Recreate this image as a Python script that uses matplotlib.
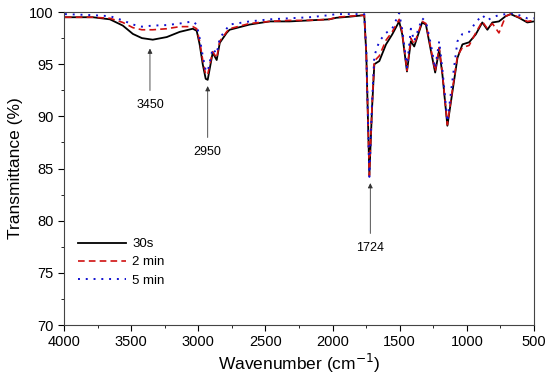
import matplotlib.pyplot as plt

plt.rcParams['font.family'] = ['Liberation Sans', 'DejaVu Sans']

# wavenumbers (cm-1)
wn = [3993, 3785, 3658, 3562, 3487, 3420, 3339, 3235, 3138, 3041, 3012, 2990,
      2967, 2945, 2930, 2893, 2863, 2840, 2789, 2767, 2618, 2469, 2321, 2172,
      2024, 1972, 1875, 1764, 1749, 1726, 1706, 1689, 1652, 1602, 1556, 1504,
      1481, 1446, 1417, 1392, 1333, 1305, 1268, 1236, 1206, 1182, 1145, 1107,
      1070, 1033, 983, 934, 885, 847, 810, 761, 711, 674, 612, 550, 500]

t_30s = [99.5, 99.5, 99.3, 98.7, 97.9, 97.5, 97.35, 97.6, 98.1, 98.4, 98.2, 96.9,
         95.0, 93.6, 93.5, 96.1, 95.4, 97.05, 98.0, 98.3, 98.8, 99.1, 99.1, 99.2,
         99.3, 99.45, 99.55, 99.7, 96.0, 84.4, 90.8, 95.0, 95.3, 96.9, 97.85, 99.1,
         97.85, 94.3, 97.2, 96.7, 99.0, 98.8, 96.3, 94.2, 96.4, 94.0, 89.1, 92.4,
         95.6, 96.9, 97.1, 97.85, 99.0, 98.3, 99.0, 99.1, 99.6, 99.8, 99.45, 99.0, 99.1]

t_2min = [99.5, 99.5, 99.4, 99.0, 98.5, 98.3, 98.3, 98.4, 98.6, 98.6, 98.4, 97.2,
          95.4, 94.0, 94.0, 96.2, 95.6, 97.2, 98.1, 98.4, 98.9, 99.1, 99.2, 99.2,
          99.3, 99.5, 99.6, 99.7, 96.0, 84.3, 91.0, 95.3, 95.8, 97.3, 98.1, 99.3,
          98.0, 94.4, 97.5, 96.9, 99.1, 98.9, 96.5, 94.3, 96.6, 94.1, 89.2, 92.6,
          95.8, 96.6, 96.8, 98.0, 99.1, 98.4, 98.9, 98.0, 99.6, 99.8, 99.5, 99.1, 99.2]

t_5min = [99.8, 99.7, 99.6, 99.2, 98.8, 98.6, 98.7, 98.75, 98.9, 99.1, 98.8, 97.5,
          95.8, 94.4, 94.3, 96.5, 96.0, 97.5, 98.4, 98.8, 99.1, 99.3, 99.4, 99.5,
          99.7, 99.8, 99.8, 99.8, 96.3, 84.2, 91.3, 95.8, 97.2, 98.0, 98.4, 99.9,
          98.3, 94.7, 98.4, 97.2, 99.4, 99.1, 96.9, 94.6, 97.2, 94.5, 89.5, 93.5,
          97.2, 97.9, 98.1, 99.0, 99.7, 99.2, 99.5, 99.7, 99.8, 99.9, 99.7, 99.4, 99.4]

peaks = [3360, 2930, 1719]
peak_labels = ['3450', '2950', '1724']
tip_y = [96.5, 92.9, 83.6]
label_y = [91.1, 86.6, 77.4]

fig = plt.figure(figsize=(5.5, 3.76), dpi=100)
ax = fig.add_axes([0.1164, 0.1356, 0.8545, 0.8324])

ax.plot(wn, t_30s, color='black', lw=1.3, label='30s')
ax.plot(wn, t_2min, color='#d01010', lw=1.2, ls=(0, (4, 2.5)), label='2 min')
ax.plot(wn, t_5min, color='#1010d0', lw=1.4, ls=(0, (1, 3)), label='5 min')

for x, lab, ty, ly in zip(peaks, peak_labels, tip_y, label_y):
    ax.annotate(lab, xy=(x, ty), xytext=(x, ly), ha='center', va='center',
                fontsize=9,
                arrowprops=dict(arrowstyle='-|>', lw=0.6, color='#333333',
                                mutation_scale=7, shrinkA=4, shrinkB=0))

ax.set_xlim(4000, 500)
ax.set_ylim(70, 100)
ax.set_xticks(range(4000, 499, -500))
ax.set_xticks(range(3750, 500, -500), minor=True)
ax.set_yticks(range(70, 101, 5))
ax.set_yticks([72.5, 77.5, 82.5, 87.5, 92.5, 97.5], minor=True)
ax.tick_params(which='major', direction='out', length=4, labelsize=10.5)
ax.tick_params(which='minor', direction='out', length=2.5)
for s in ax.spines.values():
    s.set_color('#444444')

ax.set_xlabel('Wavenumber (cm$^{-1}$)', fontsize=12.5, labelpad=2)
ax.set_ylabel('Transmittance (%)', fontsize=12.5, labelpad=4)

ax.legend(loc='lower left', bbox_to_anchor=(0.005, 0.085), frameon=False,
          fontsize=9.5, handlelength=3.6, labelspacing=0.45, handletextpad=0.5)

fig.savefig('out.png')
